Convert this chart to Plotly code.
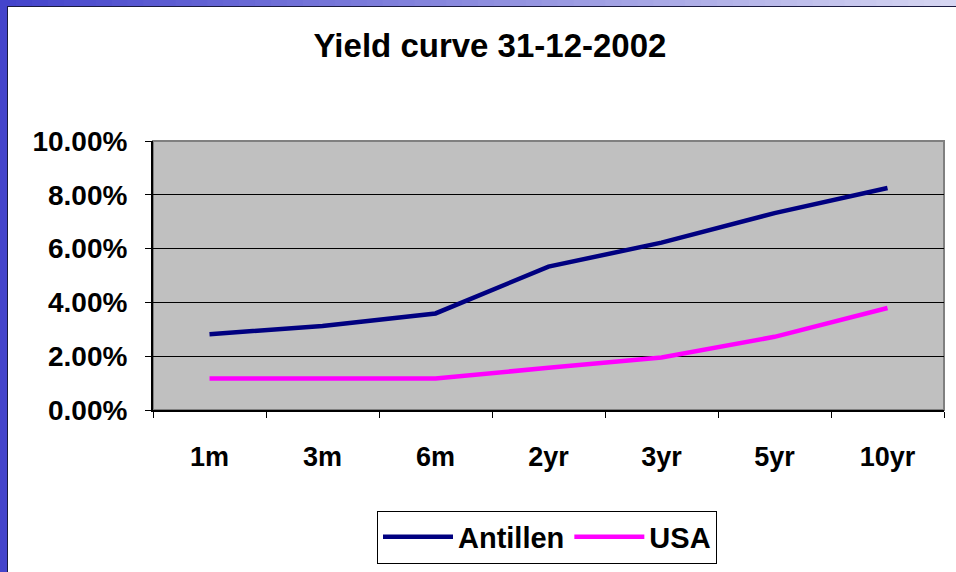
import plotly.graph_objects as go

categories = ["1m", "3m", "6m", "2yr", "3yr", "5yr", "10yr"]
antillen = [0.0282, 0.0312, 0.0359, 0.0533, 0.0622, 0.0732, 0.0825]
usa = [0.0117, 0.0117, 0.0117, 0.0157, 0.0195, 0.0272, 0.0379]
title_text = "Yield curve 31-12-2002"

W, H = 956, 572
L, R, T, B = 153, 944, 141, 410  # plot area in pixels


def px(x):
    return (x - L) / (R - L)


def py(y):
    return (B - y) / (B - T)


FONT = "Liberation Sans, Arial, sans-serif"

fig = go.Figure()
fig.add_trace(go.Scatter(x=categories, y=antillen, name="Antillen", mode="lines",
                         line=dict(color="#000080", width=4.5)))
fig.add_trace(go.Scatter(x=categories, y=usa, name="USA", mode="lines",
                         line=dict(color="#FF00FF", width=4.5)))

shapes = []
# plot area border (gray)
shapes.append(dict(type="rect", xref="paper", yref="paper", x0=0, x1=1, y0=0, y1=1,
                   line=dict(color="#808080", width=2), layer="below"))
# top gradient bar
n = 60
c0 = (0x44, 0x44, 0xCC)
c1 = (0xD6, 0xD6, 0xF2)
for i in range(n):
    t = i / (n - 1)
    col = "rgb(%d,%d,%d)" % tuple(int(c0[k] + (c1[k] - c0[k]) * t) for k in range(3))
    x0 = W * i / n
    x1 = W * (i + 1) / n + 1
    shapes.append(dict(type="rect", xref="paper", yref="paper",
                       x0=px(x0), x1=px(x1), y0=py(0), y1=py(6),
                       fillcolor=col, line=dict(width=0), layer="above"))
shapes.append(dict(type="line", xref="paper", yref="paper", x0=px(7), x1=px(W),
                   y0=py(6.5), y1=py(6.5), line=dict(color="#1a1a40", width=1)))
# left bar
shapes.append(dict(type="rect", xref="paper", yref="paper",
                   x0=px(0), x1=px(7), y0=py(0), y1=py(H),
                   fillcolor="#4444CC", line=dict(width=0), layer="above"))
shapes.append(dict(type="line", xref="paper", yref="paper", x0=px(7.5), x1=px(7.5),
                   y0=py(6), y1=py(H), line=dict(color="#1a1a40", width=1)))

fig.update_layout(
    width=W, height=H,
    margin=dict(l=L, r=W - R, t=T, b=H - B, pad=0, autoexpand=False),
    paper_bgcolor="white",
    plot_bgcolor="#C0C0C0",
    font=dict(family=FONT, size=27, color="black", weight="bold"),
    title=dict(text=title_text, x=490 / W, xanchor="center", y=1 - 45 / H, yanchor="middle",
               font=dict(family=FONT, size=33, color="black", weight="bold")),
    xaxis=dict(type="category", range=[-0.5, len(categories) - 0.5], automargin=False,
               showgrid=False, showline=True, linecolor="black", linewidth=2,
               ticks="outside", ticklen=6, tickcolor="black", tickwidth=1,
               tickson="boundaries", ticklabelstandoff=22,
               tickfont=dict(family=FONT, size=27, weight="bold")),
    yaxis=dict(range=[0, 0.10], dtick=0.02, tickformat=".2%", showgrid=True, automargin=False,
               gridcolor="black", gridwidth=1, showline=True, linecolor="black", linewidth=2,
               ticks="outside", ticklen=6, tickcolor="black", tickwidth=1,
               ticklabelstandoff=12, zeroline=False,
               tickfont=dict(family=FONT, size=28, weight="bold")),
    legend=dict(orientation="h", x=px(547), xanchor="center", y=py(537), yanchor="middle",
                bordercolor="black", borderwidth=1, bgcolor="white",
                font=dict(family=FONT, size=29, weight="bold"),
                itemwidth=70, tracegroupgap=0),
    shapes=shapes,
    showlegend=True,
)

fig.write_html("out.html")
